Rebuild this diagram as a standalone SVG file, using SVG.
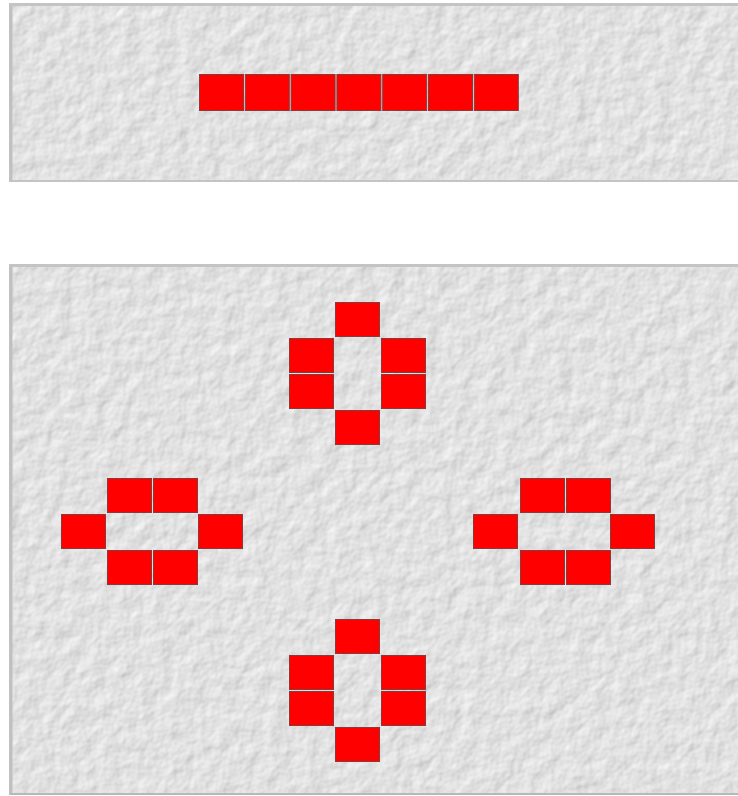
<svg xmlns="http://www.w3.org/2000/svg" width="738" height="796" viewBox="0 0 738 796">
<style>
.panel{fill:#dedede;stroke:#c4c4c4;stroke-width:2}
.cell{fill:#ff0000;stroke:#8a3a3a;stroke-width:1}
</style>
<defs>
<filter id="tex" x="0" y="0" width="100%" height="100%" color-interpolation-filters="sRGB">
<feTurbulence type="fractalNoise" baseFrequency="0.06" numOctaves="3" seed="4" result="n"/>
<feDiffuseLighting in="n" surfaceScale="1" lighting-color="#ffffff" result="l"><feDistantLight azimuth="225" elevation="62"/></feDiffuseLighting>
<feComposite in="l" in2="SourceGraphic" operator="in"/>
</filter>
<rect id="c" class="cell" width="44" height="34"/>
</defs>
<rect width="738" height="796" fill="#ffffff"/>
<g id="panel-top">
<rect class="panel" x="10" y="4" width="730" height="177"/>
<rect x="11" y="5" width="727" height="175" fill="#dedede" filter="url(#tex)"/>
<line x1="11" y1="4" x2="11" y2="181" stroke="#c0c0c0" stroke-width="3"/>
<line x1="10" y1="5" x2="738" y2="5" stroke="#c4c4c4" stroke-width="2"/>
</g>
<g id="panel-bottom">
<rect class="panel" x="10" y="265" width="730" height="529"/>
<rect x="11" y="266" width="727" height="527" fill="#dedede" filter="url(#tex)"/>
<line x1="11" y1="265" x2="11" y2="794" stroke="#c0c0c0" stroke-width="3"/>
<line x1="10" y1="266" x2="738" y2="266" stroke="#c4c4c4" stroke-width="2"/>
<line x1="10" y1="794" x2="738" y2="794" stroke="#b8b8b8" stroke-width="2"/>
</g>
<g id="row">
<rect class="cell" x="199.5" y="74.5" width="44" height="36"/>
<rect class="cell" x="245.3" y="74.5" width="44" height="36"/>
<rect class="cell" x="291.1" y="74.5" width="44" height="36"/>
<rect class="cell" x="336.9" y="74.5" width="44" height="36"/>
<rect class="cell" x="382.7" y="74.5" width="44" height="36"/>
<rect class="cell" x="428.5" y="74.5" width="44" height="36"/>
<rect class="cell" x="474.3" y="74.5" width="44" height="36"/>
</g>
<g id="blinker-top">
<use href="#c" x="335.5" y="302.5"/>
<use href="#c" x="289.5" y="338.5"/>
<use href="#c" x="381.5" y="338.5"/>
<use href="#c" x="289.5" y="374.5"/>
<use href="#c" x="381.5" y="374.5"/>
<use href="#c" x="335.5" y="410.5"/>
</g>
<g id="blinker-left">
<use href="#c" x="107.5" y="478.5"/>
<use href="#c" x="153.5" y="478.5"/>
<use href="#c" x="61.5" y="514.5"/>
<use href="#c" x="198.5" y="514.5"/>
<use href="#c" x="107.5" y="550.5"/>
<use href="#c" x="153.5" y="550.5"/>
</g>
<g id="blinker-right">
<use href="#c" x="520.5" y="478.5"/>
<use href="#c" x="566.5" y="478.5"/>
<use href="#c" x="473.5" y="514.5"/>
<use href="#c" x="610.5" y="514.5"/>
<use href="#c" x="520.5" y="550.5"/>
<use href="#c" x="566.5" y="550.5"/>
</g>
<g id="blinker-bottom">
<use href="#c" x="335.5" y="619.5"/>
<use href="#c" x="289.5" y="655.5"/>
<use href="#c" x="381.5" y="655.5"/>
<use href="#c" x="289.5" y="691.5"/>
<use href="#c" x="381.5" y="691.5"/>
<use href="#c" x="335.5" y="727.5"/>
</g>
<g id="connectors"/>
</svg>
